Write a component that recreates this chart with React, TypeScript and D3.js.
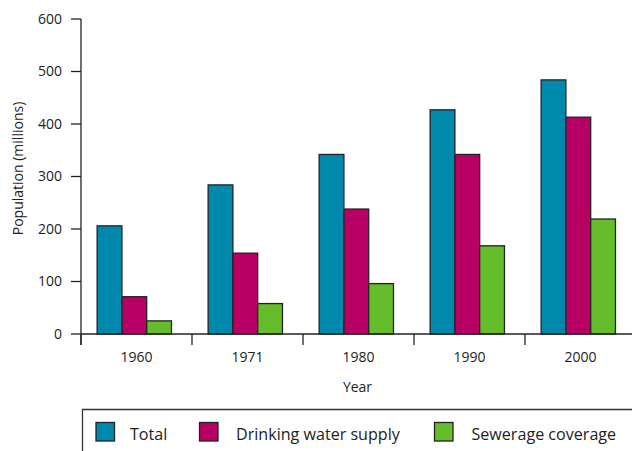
import { useMemo } from 'react'
import * as d3 from 'd3'

const years = ['1960', '1971', '1980', '1990', '2000']
const seriesNames = ['Total', 'Drinking water supply', 'Sewerage coverage']
const totalValues = [206, 284, 342, 427, 484]
const drinkingValues = [71, 154, 238, 342, 413]
const sewerageValues = [25, 58, 96, 168, 219]
const yTicks = [0, 100, 200, 300, 400, 500, 600]
const seriesColors = ['#0089ad', '#b80064', '#66bd2b']

const W = 632
const H = 451
const FONT = '"Open Sans", "Noto Sans", sans-serif'
const INK = '#222'

export default function App() {
  const margin = { top: 19, left: 81, bottom: 334, right: 636 }

  const y = useMemo(
    () => d3.scaleLinear().domain([0, 600]).range([margin.bottom, margin.top]),
    []
  )
  const x0 = useMemo(
    () => d3.scaleBand<string>().domain(years).range([margin.left, margin.right]),
    []
  )
  const x1 = useMemo(
    () =>
      d3.scaleBand<string>()
        .domain(seriesNames)
        .range([0, x0.step()])
        .paddingOuter(0.74)
        .align(0.44),
    [x0]
  )

  const seriesValues = [totalValues, drinkingValues, sewerageValues]

  // one record per bar
  const bars = years.flatMap((yr, i) =>
    seriesNames.map((s, j) => ({ yr, s, v: seriesValues[j][i], color: seriesColors[j] }))
  )

  const legendX = [96, 199.5, 434.5]
  const legendTextX = [130, 236, 471.5]

  return (
    <svg
      width={W}
      height={H}
      style={{ position: 'absolute', left: 0, top: 0, background: '#fff' }}
      fontFamily={FONT}
    >
      {/* bars */}
      <g>
        {bars.map((b) => (
          <rect
            key={b.yr + b.s}
            x={(x0(b.yr) ?? 0) + (x1(b.s) ?? 0)}
            y={y(b.v)}
            width={x1.bandwidth()}
            height={y(0) - y(b.v)}
            fill={b.color}
            stroke={INK}
            strokeWidth={1.3}
          />
        ))}
      </g>

      {/* y axis */}
      <g>
        <line x1={margin.left} x2={margin.left} y1={y(600)} y2={y(0) + 11} stroke={INK} strokeWidth={1.3} />
        {yTicks.map((t) => (
          <g key={t} transform={`translate(0,${y(t)})`}>
            <line x1={margin.left - 10} x2={margin.left} stroke={INK} strokeWidth={1.3} />
            <text x={margin.left - 19} dy="0.35em" textAnchor="end" fontSize={14} fill={INK}>
              {t}
            </text>
          </g>
        ))}
        <text
          transform={`translate(22.5,${(y(0) + y(600)) / 2 - 8}) rotate(-90)`}
          textAnchor="middle"
          fontSize={14}
          fill={INK}
        >
          Population (millions)
        </text>
      </g>

      {/* x axis */}
      <g>
        <line x1={margin.left} x2={margin.right} y1={y(0)} y2={y(0)} stroke={INK} strokeWidth={1.3} />
        {years.map((yr) => (
          <g key={yr}>
            <line
              x1={x0(yr) ?? 0}
              x2={x0(yr) ?? 0}
              y1={y(0)}
              y2={y(0) + 11}
              stroke={INK}
              strokeWidth={1.3}
            />
            <text
              x={(x0(yr) ?? 0) + x0.bandwidth() / 2}
              y={y(0) + 28}
              textAnchor="middle"
              fontSize={14}
              fill={INK}
            >
              {yr}
            </text>
          </g>
        ))}
        <line x1={margin.right} x2={margin.right} y1={y(0)} y2={y(0) + 11} stroke={INK} strokeWidth={1.3} />
        <text x={(margin.left + margin.right) / 2 - 1} y={392} textAnchor="middle" fontSize={14} fill={INK}>
          Year
        </text>
      </g>

      {/* legend */}
      <g>
        <path d={`M82.5,${H + 2}V409.5H${W + 4}`} fill="none" stroke="#333" strokeWidth={1.3} />
        {seriesNames.map((s, i) => (
          <g key={s}>
            <rect
              x={legendX[i]}
              y={422.5}
              width={18.5}
              height={18.5}
              fill={seriesColors[i]}
              stroke={INK}
              strokeWidth={1.3}
            />
            <text x={legendTextX[i]} y={439.5} fontSize={16.1} fill={INK}>
              {s}
            </text>
          </g>
        ))}
      </g>
    </svg>
  )
}
